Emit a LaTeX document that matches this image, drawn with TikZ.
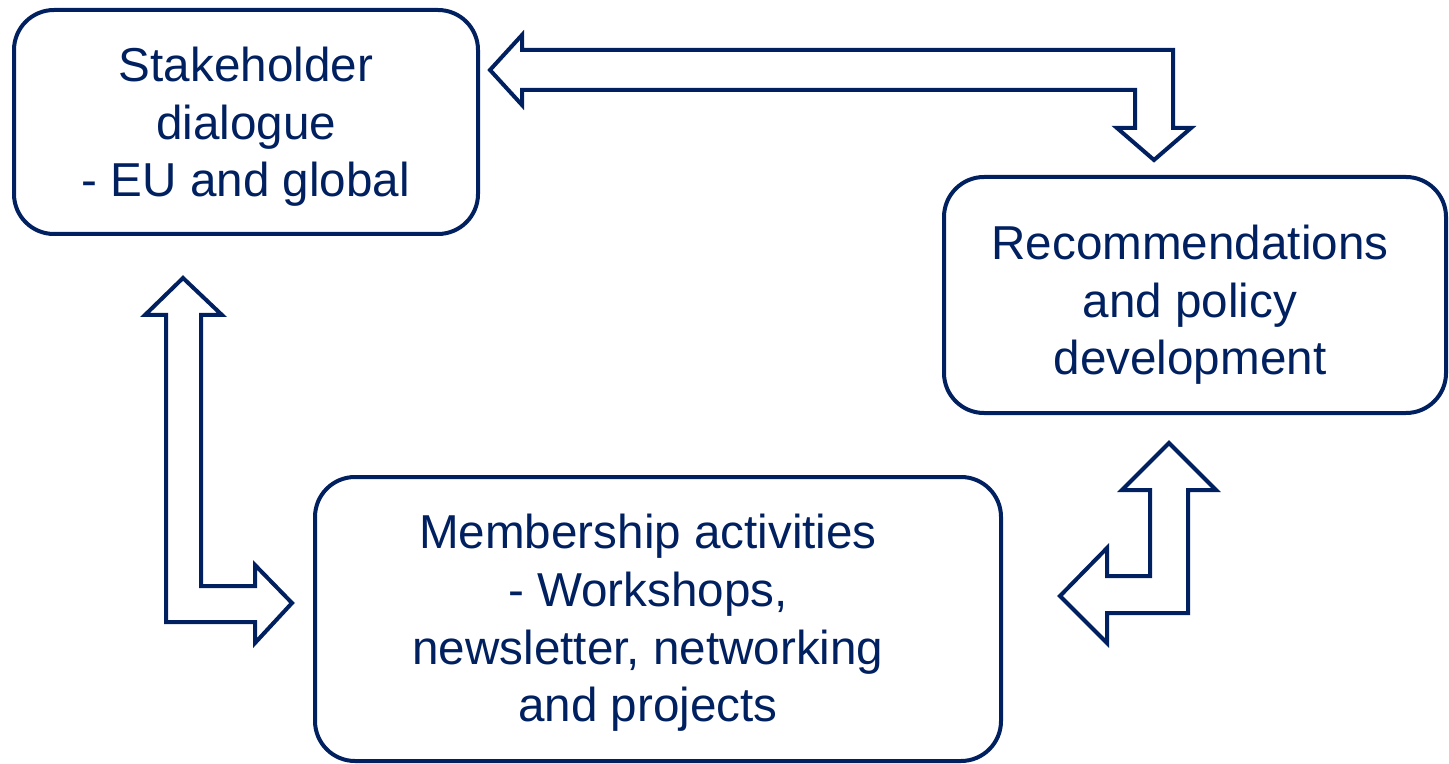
\documentclass[tikz,border=0pt]{standalone}
\usepackage{fontspec}
\setmainfont{Liberation Sans}
\usetikzlibrary{positioning}
\definecolor{navy}{HTML}{002060}

\tikzset{
    stagebox/.style={draw=navy, line width=2pt, rounded corners=20pt, inner sep=0pt},
    stagetext/.style={text=navy, align=center, font=\fontsize{23.8}{28.8}\selectfont, inner sep=0pt},
    blockarrow/.style={draw=navy, line width=2pt, fill=white, line join=miter}
}

\begin{document}
\begin{tikzpicture}[x=0.5pt, y=-0.5pt] % one unit = one pixel of the layout
    \useasboundingbox (0,0) rectangle (1449,764);

    % The three stages
    \node[stagebox, minimum width=232pt, minimum height=112pt] (dialogue) at (246,122) {};
    \node[stagebox, minimum width=251pt, minimum height=118pt] (policy) at (1195,295) {};
    \node[stagebox, minimum width=343pt, minimum height=142pt] (members) at (658,619) {};

    % Their texts
    \node[stagetext] (dialoguetext) at ([shift={(0,5)}]dialogue.center)
        {Stakeholder\\dialogue\\- EU and global};
    \node[stagetext] (policytext) at ([shift={(-5,10)}]policy.center)
        {Recommendations\\and policy\\development};
    \node[stagetext] (memberstext) at ([shift={(-10,4)}]members.center)
        {Membership activities\\- Workshops,\\newsletter, networking\\and projects};

    % dialogue <-> policy
    \draw[blockarrow] (490,70) -- (522,35) -- (522,50) -- (1173,50) -- (1173,128) -- (1191,128)
        -- (1154,160) -- (1117,128) -- (1135,128) -- (1135,90) -- (522,90) -- (522,105) -- cycle;

    % dialogue <-> members
    \draw[blockarrow] (183,278) -- (222,315) -- (201,315) -- (201,586) -- (255,586) -- (255,565)
        -- (292,603) -- (255,643) -- (255,622) -- (166,622) -- (166,315) -- (145,315) -- cycle;

    % members <-> policy
    \draw[blockarrow] (1169,443) -- (1216,490) -- (1188,490) -- (1188,613) -- (1107,613) -- (1107,643)
        -- (1060,596) -- (1107,548) -- (1107,576) -- (1150,576) -- (1150,490) -- (1122,490) -- cycle;

\end{tikzpicture}
\end{document}
